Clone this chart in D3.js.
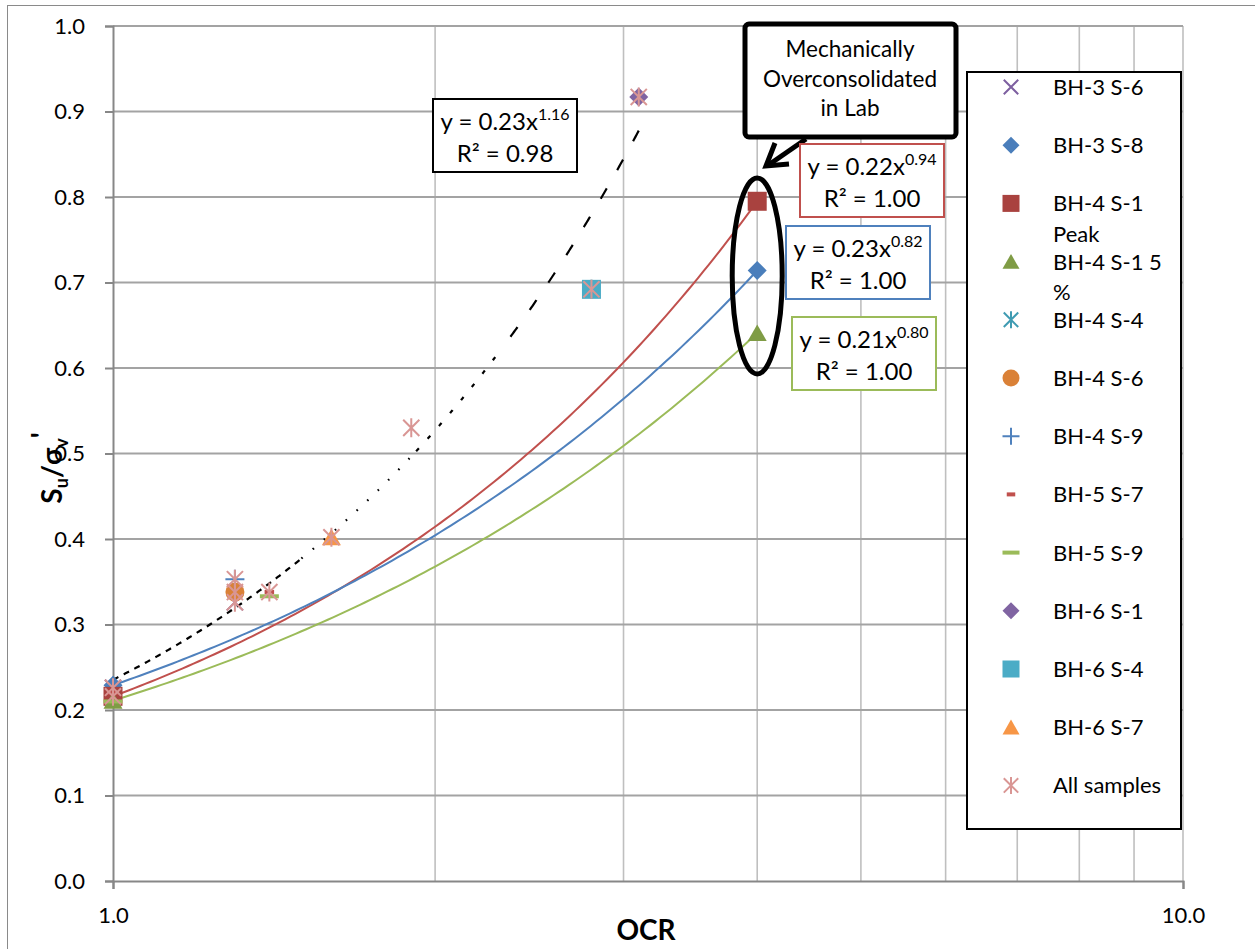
<!DOCTYPE html>
<html><head><meta charset="utf-8">
<script src="https://cdn.jsdelivr.net/npm/d3@7"></script>
<style>
body{margin:0;background:#fff;}
svg{display:block;}
text{font-family:Lato,'Open Sans',sans-serif;fill:#000;}
</style>
</head><body>
<svg id="chart" width="1255" height="949"></svg>
<script>
// ---------- DATA ----------
const seriesNames = ["BH-3 S-6","BH-3 S-8","BH-4 S-1 Peak","BH-4 S-1 5 %","BH-4 S-4","BH-4 S-6","BH-4 S-9","BH-5 S-7","BH-5 S-9","BH-6 S-1","BH-6 S-4","BH-6 S-7","All samples"];
const seriesMarkers = ["x","diamond","square","triangle","asterisk","circle","plus","dash","longdash","diamond","square","triangle","asterisk"];
const seriesColors = ["#7D5FA0","#4A7EBB","#A9423F","#7F9C45","#3F9BB2","#DA8137","#4F81BD","#C0504D","#9BBB59","#8064A2","#4BACC6","#F79646","#D99694"];

const bh3s6   = [[1.0,0.226],[1.3,0.326]];
const bh3s8   = [[1.0,0.229],[4.0,0.714]];
const bh4s1pk = [[1.0,0.216],[4.0,0.795]];
const bh4s1_5 = [[1.0,0.211],[4.0,0.641]];
const bh4s4   = [[2.8,0.692]];
const bh4s6   = [[1.3,0.338]];
const bh4s9   = [[1.3,0.353]];
const bh5s7   = [[1.0,0.220],[1.4,0.338]];
const bh5s9   = [[1.0,0.210],[1.4,0.333]];
const bh6s1   = [[3.1,0.917]];
const bh6s4   = [[2.8,0.692]];
const bh6s7   = [[1.6,0.402]];
const allSamples = [[1.0,0.226],[1.0,0.216],[1.3,0.353],[1.3,0.338],[1.3,0.326],[1.4,0.338],[1.6,0.402],[1.9,0.530],[2.8,0.692],[3.1,0.917]];
const seriesData = [bh3s6,bh3s8,bh4s1pk,bh4s1_5,bh4s4,bh4s6,bh4s9,bh5s7,bh5s9,bh6s1,bh6s4,bh6s7,allSamples];

// trendlines: series index, color, label text
const trendSeries = [12, 2, 1, 3];
const trendColors = ["#000000","#C0504D","#4F81BD","#9BBB59"];
const eqCoef = ["0.23","0.22","0.23","0.21"];
const eqExp  = ["1.16","0.94","0.82","0.80"];
const eqR2   = ["0.98","1.00","1.00","1.00"];

const xTicks = [1, 10];
const xMinor = [2,3,4,5,6,7,8,9,10];
const yTicks = d3.range(0, 11).map(d => d/10);
const xTitle = "OCR";
const calloutLines = ["Mechanically","Overconsolidated","in Lab"];

// ---------- LAYOUT ----------
const svg = d3.select("#chart");
const x = d3.scaleLog().domain([1,10]).range([113,1183]);
const y = d3.scaleLinear().domain([0,1]).range([881,26]);

// outer chart border
svg.append("rect").attr("x",7.5).attr("y",5.5).attr("width",1300).attr("height",1000)
  .attr("fill","none").attr("stroke","#8A8A8A").attr("stroke-width",1);

// gridlines
const g = svg.append("g");
g.selectAll(".vg").data(xMinor).join("line")
  .attr("x1",d=>x(d)).attr("x2",d=>x(d)).attr("y1",y(1)).attr("y2",y(0))
  .attr("stroke","#BFBFBF").attr("stroke-width",1.6);
g.selectAll(".hg").data(yTicks.filter(d=>d>0)).join("line")
  .attr("x1",x(1)).attr("x2",x(10)).attr("y1",d=>y(d)).attr("y2",d=>y(d))
  .attr("stroke","#A3A3A3").attr("stroke-width",2);

// axes
const yAxis = d3.axisLeft(y).tickValues(yTicks).tickFormat(d3.format(".1f")).tickSize(8).tickPadding(20);
const yg = svg.append("g").attr("transform",`translate(${x(1)},0)`).call(yAxis);
yg.select(".domain").attr("stroke","#878787").attr("stroke-width",2);
yg.selectAll(".tick line").attr("stroke","#878787").attr("stroke-width",2);
yg.selectAll(".tick text").attr("font-size",22).attr("font-family","Lato").attr("fill","#000");

const xAxis = d3.axisBottom(x).tickValues(xTicks).tickFormat(d3.format(".1f")).tickSize(8).tickPadding(18);
const xg = svg.append("g").attr("transform",`translate(0,${y(0)})`).call(xAxis);
xg.select(".domain").attr("stroke","#878787").attr("stroke-width",2);
xg.selectAll(".tick line").attr("stroke","#878787").attr("stroke-width",2);
xg.selectAll(".tick text").attr("font-size",22).attr("font-family","Lato").attr("fill","#000");

// axis titles
svg.append("text").attr("x",646).attr("y",940).attr("text-anchor","middle")
  .attr("font-size",28).attr("font-weight","bold").text(xTitle);
const yt = svg.append("text").attr("transform","translate(62,468) rotate(-90)")
  .attr("text-anchor","middle").attr("font-size",28).attr("font-weight","bold");
yt.append("tspan").text("S");
yt.append("tspan").attr("font-size",18).attr("dy",6).text("u");
yt.append("tspan").attr("dy",-6).text("/σ");
yt.append("tspan").attr("font-size",18).attr("dy",6).text("v");
yt.append("tspan").attr("dy",-16).text("'");

// ---------- TRENDLINES ----------
function powerFit(pts){
  const lx = pts.map(p=>Math.log(p[0])), ly = pts.map(p=>Math.log(p[1]));
  const mx = d3.mean(lx), my = d3.mean(ly);
  let sxy=0,sxx=0;
  lx.forEach((v,i)=>{sxy+=(v-mx)*(ly[i]-my); sxx+=(v-mx)*(v-mx);});
  const b = sxy/sxx; const a = Math.exp(my-b*mx);
  return {a,b};
}
const line = d3.line().x(d=>x(d[0])).y(d=>y(d[1]));
function curve(fit, x0, x1){
  const n=120, pts=[];
  for(let i=0;i<=n;i++){const xv = x0*Math.pow(x1/x0,i/n); pts.push([xv, fit.a*Math.pow(xv,fit.b)]);}
  return pts;
}
const tg = svg.append("g");
trendSeries.forEach((si,k)=>{
  const pts = seriesData[si];
  const fit = powerFit(pts);
  const ext = d3.extent(pts,p=>p[0]);
  if(k===0){
    // dashed black trendline, dash appearance varies along its length
    const brk = [ext[0],1.5,1.92,2.3,ext[1]];
    const dashes = ["6,6","1.6,13","4,13","12,21"];
    for(let j=0;j<4;j++){
      let c = curve(fit,brk[j],brk[j+1]);
      if(j===3) c = c.reverse();
      tg.append("path").attr("d",line(c))
        .attr("fill","none").attr("stroke","#000").attr("stroke-width",2.2)
        .attr("stroke-dasharray",dashes[j]);
    }
  } else {
    tg.append("path").attr("d",line(curve(fit,ext[0],ext[1])))
      .attr("fill","none").attr("stroke",trendColors[k]).attr("stroke-width",2);
  }
});

// ---------- MARKERS ----------
function drawMarker(sel, type, color, s){
  const h = s/2;
  if(type==="square"){
    sel.append("rect").attr("x",-h).attr("y",-h).attr("width",s).attr("height",s).attr("fill",color);
  } else if(type==="diamond"){
    sel.append("path").attr("d",`M0,${-h}L${h},0L0,${h}L${-h},0Z`).attr("fill",color);
  } else if(type==="triangle"){
    sel.append("path").attr("d",`M0,${-h*0.9}L${h},${h*0.85}L${-h},${h*0.85}Z`).attr("fill",color);
  } else if(type==="circle"){
    sel.append("circle").attr("r",h).attr("fill",color);
  } else if(type==="x"){
    const q=h*0.85;
    sel.append("path").attr("d",`M${-q},${-q}L${q},${q}M${-q},${q}L${q},${-q}`).attr("stroke",color).attr("stroke-width",2).attr("fill","none");
  } else if(type==="asterisk"){
    const q=h*0.85;
    sel.append("path").attr("d",`M${-q},${-q}L${q},${q}M${-q},${q}L${q},${-q}M0,${-h}L0,${h}`).attr("stroke",color).attr("stroke-width",2).attr("fill","none");
  } else if(type==="plus"){
    sel.append("path").attr("d",`M${-h},0L${h},0M0,${-h}L0,${h}`).attr("stroke",color).attr("stroke-width",2).attr("fill","none");
  } else if(type==="dash"){
    sel.append("rect").attr("x",-h*0.5).attr("y",-2).attr("width",h).attr("height",4).attr("fill",color);
  } else if(type==="longdash"){
    sel.append("rect").attr("x",-h).attr("y",-2).attr("width",s).attr("height",4).attr("fill",color);
  }
}
const mg = svg.append("g");
seriesData.forEach((pts,si)=>{
  pts.forEach(p=>{
    const m = mg.append("g").attr("transform",`translate(${x(p[0])},${y(p[1])})`);
    drawMarker(m, seriesMarkers[si], seriesColors[si], 19);
  });
});

// ---------- ANNOTATIONS ----------
const an = svg.append("g");
// ellipse around lab-overconsolidated points
an.append("ellipse").attr("cx",x(4)).attr("cy",(y(0.595)+y(0.825))/2+2)
  .attr("rx",25).attr("ry",98).attr("fill","none").attr("stroke","#000").attr("stroke-width",5);
// callout box
an.append("rect").attr("x",745).attr("y",24).attr("width",211).attr("height",113).attr("rx",4)
  .attr("fill","#fff").attr("stroke","#000").attr("stroke-width",5);
calloutLines.forEach((t,i)=>{
  an.append("text").attr("x",850).attr("y",57+i*29.5).attr("text-anchor","middle").attr("font-size",22.5).text(t);
});
// arrow
an.append("path").attr("d","M806,139L767,166").attr("stroke","#000").attr("stroke-width",5).attr("fill","none");
an.append("path").attr("d","M775,143L766,166L789,164").attr("stroke","#000").attr("stroke-width",5).attr("fill","none").attr("stroke-linejoin","miter");

// equation boxes
const eqBoxes = [[433,99],[800,144],[786,226],[792,317]];
const eqW = 144, eqH = 73;
eqBoxes.forEach((b,k)=>{
  const gg = an.append("g").attr("transform",`translate(${b[0]},${b[1]})`);
  gg.append("rect").attr("width",eqW).attr("height",eqH).attr("fill","#fff")
    .attr("stroke",k===0?"#000":trendColors[k]).attr("stroke-width",2);
  const t1 = gg.append("text").attr("x",eqW/2).attr("y",31).attr("text-anchor","middle").attr("font-size",24);
  t1.append("tspan").text(`y = ${eqCoef[k]}x`);
  t1.append("tspan").attr("font-size",16).attr("dy",-10).text(eqExp[k]);
  gg.append("text").attr("x",eqW/2).attr("y",63).attr("text-anchor","middle").attr("font-size",24)
    .text(`R² = ${eqR2[k]}`);
});

// ---------- LEGEND ----------
const lg = svg.append("g");
lg.append("rect").attr("x",967).attr("y",72).attr("width",214).attr("height",757)
  .attr("fill","#fff").attr("stroke","#000").attr("stroke-width",2);
const maxW = 126;
seriesNames.forEach((name,i)=>{
  const cy = 87 + i*58.2;
  const m = lg.append("g").attr("transform",`translate(1011,${cy})`);
  drawMarker(m, seriesMarkers[i], seriesColors[i], 17);
  const t = lg.append("text").attr("x",1053).attr("y",cy+8).attr("font-size",22);
  const words = name.split(" ");
  let lineStr = "", tspan = t.append("tspan").attr("x",1053);
  words.forEach(w=>{
    const test = lineStr ? lineStr+" "+w : w;
    tspan.text(test);
    if(tspan.node().getComputedTextLength() > maxW && lineStr){
      tspan.text(lineStr);
      lineStr = w;
      tspan = t.append("tspan").attr("x",1053).attr("dy",30.5).text(w);
    } else lineStr = test;
  });
});
</script>
</body></html>
